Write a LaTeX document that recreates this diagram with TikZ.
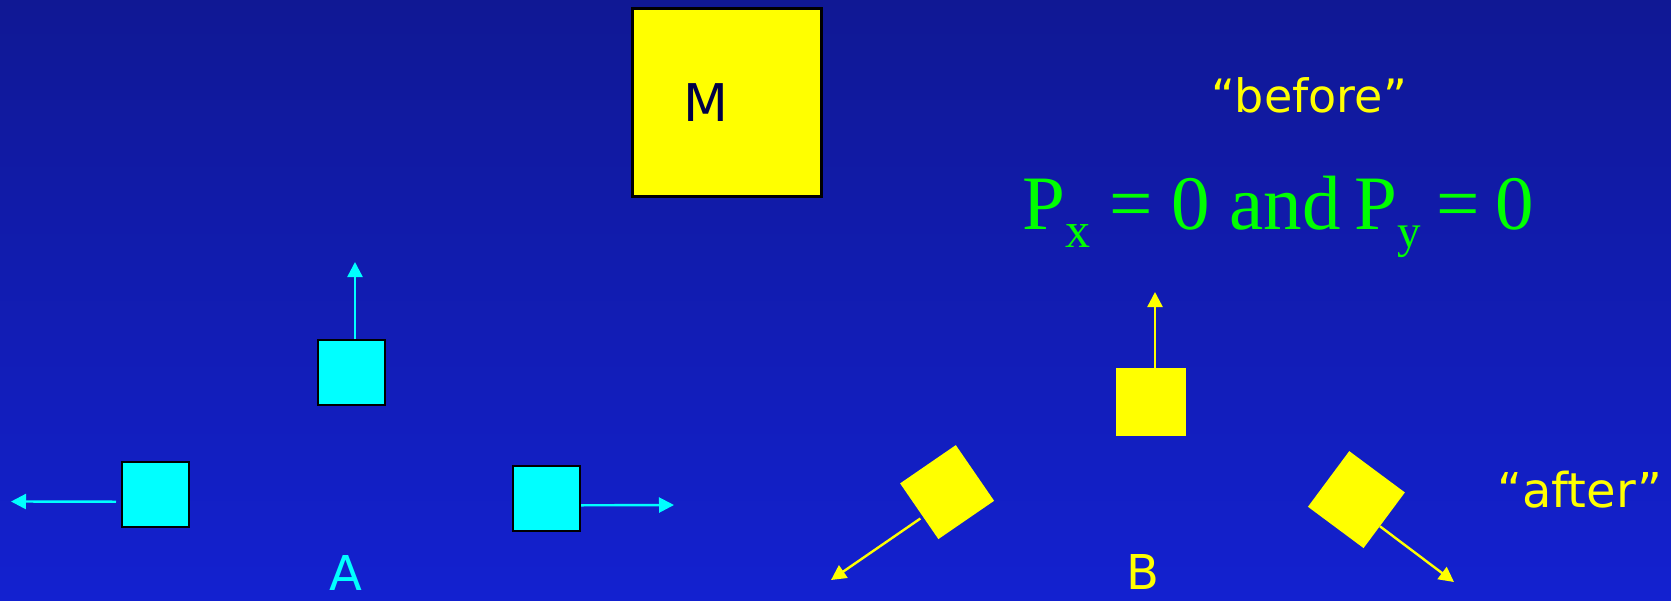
\documentclass[tikz,border=0pt]{standalone}
\usepackage{fontspec}
\setmainfont{Liberation Serif}
\newfontfamily\labelfont{DejaVu Sans}
\usetikzlibrary{arrows.meta,calc}
\definecolor{bgtop}{RGB}{16,24,148}
\definecolor{bgbot}{RGB}{19,33,208}
\definecolor{mcol}{RGB}{0,0,70}
\definecolor{eqgreen}{RGB}{0,255,0}
\definecolor{acyan}{RGB}{0,255,255}
\definecolor{ayellow}{RGB}{255,255,0}
\begin{document}
\begin{tikzpicture}[x=1pt,y=-1pt,
  cbox/.style={draw=black, line width=2pt, fill=acyan, inner sep=0pt, minimum width=67pt, minimum height=65pt},
  ybox/.style={fill=ayellow, inner sep=0pt},
  carrow/.style={draw=acyan, line width=2.4pt, -{Triangle[length=15pt,width=15pt]}},
  yarrow/.style={draw=ayellow, line width=2.4pt, -{Triangle[length=15pt,width=15pt]}},
  lbl/.style={font=\labelfont\fontsize{48}{56}\selectfont, inner sep=0pt, text=ayellow},
  eqstyle/.style={font=\fontsize{77}{90}\selectfont, inner sep=0pt, text=eqgreen}
]
\useasboundingbox (0,0) rectangle (1671,600);
\shade[top color=bgtop, bottom color=bgbot] (0,0) rectangle (1671,600);

% M block
\node[draw=black, line width=2.5pt, fill=ayellow, inner sep=0pt, minimum width=189pt, minimum height=188pt] (mbox) at (727,102.5) {};
\node[lbl, text=mcol, font=\labelfont\fontsize{52}{60}\selectfont] (mlabel) at ([xshift=-21pt]mbox.center) {M};

% texts
\node[lbl, anchor=base, font=\labelfont\fontsize{46}{54}\selectfont] (before) at (1309,112) {“before”};
\node[eqstyle, anchor=base west] (eq) at (1022,229) {P\raisebox{-18pt}{\fontsize{50}{50}\selectfont x} = 0 and\hspace{14pt}P\raisebox{-18pt}{\fontsize{47}{50}\selectfont y}\hspace{15pt}=\hspace{16pt}0};
\node[lbl, anchor=base] (after) at (1580,507) {“after”};
\node[lbl, text=acyan, anchor=base] (labA) at (346,590) {A};
\node[lbl, anchor=base] (labB) at (1143,589) {B};

% cyan pieces (A)
\node[cbox] (c1) at (351,372.5) {};
\node[cbox] (c2) at (155,494.7) {};
\node[cbox] (c3) at (546.7,498.3) {};
\coordinate (c1tip) at (355,262);
\coordinate (c2tip) at (11,501.5);
\coordinate (c3tip) at (674,505);
\draw[carrow] ([xshift=4pt]c1.north) -- (c1tip);
\draw[carrow] ([shift={(-4.5,7)}]c2.west) -- (c2tip);
\draw[carrow] ([shift={(0,7)}]c3.east) -- (c3tip);

% yellow pieces (B)
\node[ybox, minimum width=70pt, minimum height=68pt] (y1) at (1151,402) {};
\node[ybox, minimum size=67.6pt, rotate=34.5] (ly) at (947.1,492.1) {};
\node[ybox, minimum size=69.3pt, rotate=-36.6] (ry) at (1356.4,499.6) {};
\coordinate (y1tip) at (1155,292);
\coordinate (lytip) at (831,580);
\coordinate (rytip) at (1454,582);
\draw[yarrow] ([xshift=4pt]y1.north) -- (y1tip);
\draw[yarrow, shorten <=3pt] (ly.191.5) -- (lytip);
\draw[yarrow] (ry.348) -- (rytip);
\end{tikzpicture}
\end{document}
